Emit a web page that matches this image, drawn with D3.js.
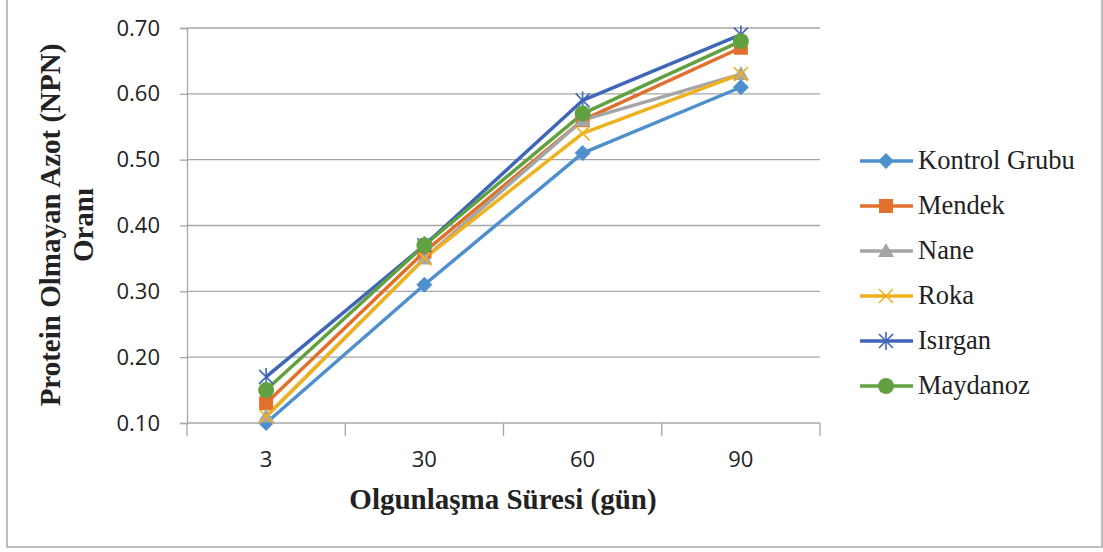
<!DOCTYPE html>
<html>
<head>
<meta charset="utf-8">
<script src="https://cdn.jsdelivr.net/npm/d3@7"></script>
<style>
  html, body { margin: 0; padding: 0; background: #fff; }
  svg { display: block; }
</style>
</head>
<body>
<script>
// veriler
var categories = ['3', '30', '60', '90'];
var seriesNames = ['Kontrol Grubu', 'Mendek', 'Nane', 'Roka', 'Isırgan', 'Maydanoz'];
var kontrolValues = [0.10, 0.31, 0.51, 0.61];
var mendekValues = [0.13, 0.36, 0.56, 0.67];
var naneValues = [0.11, 0.35, 0.56, 0.63];
var rokaValues = [0.11, 0.35, 0.54, 0.63];
var isirganValues = [0.17, 0.37, 0.59, 0.69];
var maydanozValues = [0.15, 0.37, 0.57, 0.68];
var yTicks = [0.10, 0.20, 0.30, 0.40, 0.50, 0.60, 0.70];

var colors = ['#4f8fcc', '#e0702b', '#a5a5a5', '#efb21f', '#3f66b8', '#62a140'];
var markers = ['diamond', 'square', 'triangle', 'x', 'star', 'circle'];
var allValues = [kontrolValues, mendekValues, naneValues, rokaValues, isirganValues, maydanozValues];

var series = seriesNames.map(function(name, i){
    return {name: name, values: allValues[i], color: colors[i], marker: markers[i]};
});

var W = 1103, H = 552;
var svg = d3.select(document.body).append('svg').attr('width', W).attr('height', H);

// dış çerçeve
svg.append('rect')
    .attr('x', 7).attr('y', -2).attr('width', 1095).attr('height', 549)
    .attr('fill', 'none').attr('stroke', '#a8a8a8').attr('stroke-width', 1.5);

var plotL = 187, plotR = 820, plotT = 28, plotB = 423;

var x = d3.scaleBand().domain(categories).range([plotL, plotR]);
var y = d3.scaleLinear().domain([0.10, 0.70]).range([plotB, plotT]);

// yatay ızgara
svg.append('g').selectAll('line').data(yTicks.slice(1)).enter()
    .append('line')
    .attr('x1', plotL).attr('x2', plotR)
    .attr('y1', function(d){ return y(d); })
    .attr('y2', function(d){ return y(d); })
    .attr('stroke', '#a6a6a6').attr('stroke-width', 1.3);

// y ekseni
var yAxis = svg.append('g').attr('transform', 'translate(' + plotL + ',0)')
    .call(d3.axisLeft(y).tickValues(yTicks).tickFormat(d3.format('.2f')).tickSize(7).tickPadding(20));
yAxis.select('.domain').attr('stroke', '#a6a6a6').attr('stroke-width', 1.3);
yAxis.selectAll('.tick line').attr('stroke', '#a6a6a6').attr('stroke-width', 1.3);
yAxis.selectAll('text')
    .attr('font-family', '"Open Sans", "Noto Sans", sans-serif')
    .attr('font-size', '22px').attr('fill', '#222');

// x ekseni
var xAxisG = svg.append('g').attr('transform', 'translate(0,' + plotB + ')');
xAxisG.append('line').attr('x1', plotL).attr('x2', plotR).attr('y1', 0).attr('y2', 0)
    .attr('stroke', '#a6a6a6').attr('stroke-width', 1.3);
var boundaries = categories.map(function(c){ return x(c); }).concat([plotR]);
xAxisG.selectAll('line.tk').data(boundaries).enter().append('line')
    .attr('class', 'tk')
    .attr('x1', function(d){ return d; }).attr('x2', function(d){ return d; })
    .attr('y1', 0).attr('y2', 13)
    .attr('stroke', '#a6a6a6').attr('stroke-width', 1.3);
xAxisG.selectAll('text').data(categories).enter().append('text')
    .attr('x', function(d){ return x(d) + x.bandwidth() / 2; })
    .attr('y', 44)
    .attr('text-anchor', 'middle')
    .attr('font-family', '"Open Sans", "Noto Sans", sans-serif')
    .attr('font-size', '22px').attr('fill', '#222')
    .text(function(d){ return d; });

// eksen başlıkları
svg.append('text')
    .attr('x', 503).attr('y', 509)
    .attr('text-anchor', 'middle')
    .attr('font-family', '"Liberation Serif", "Times New Roman", serif')
    .attr('font-weight', 'bold').attr('font-size', '29px').attr('fill', '#222')
    .text('Olgunlaşma Süresi (gün)');

var yTitle = svg.append('text')
    .attr('transform', 'translate(60,225) rotate(-90)')
    .attr('text-anchor', 'middle')
    .attr('font-family', '"Liberation Serif", "Times New Roman", serif')
    .attr('font-weight', 'bold').attr('font-size', '29px').attr('fill', '#222');
yTitle.append('tspan').attr('x', 0).attr('dy', 0).text('Protein Olmayan Azot (NPN)');
yTitle.append('tspan').attr('x', 0).attr('dy', 33).text('Oranı');

// çizgiler
var line = d3.line()
    .x(function(d, i){ return x(categories[i]) + x.bandwidth() / 2; })
    .y(function(d){ return y(d); });

function drawMarker(g, type, color){
    if (type === 'diamond') {
        g.append('path').attr('d', 'M0,-8L8,0L0,8L-8,0Z').attr('fill', color);
    } else if (type === 'square') {
        g.append('rect').attr('x', -7).attr('y', -7).attr('width', 14).attr('height', 14).attr('fill', color);
    } else if (type === 'triangle') {
        g.append('path').attr('d', 'M0,-8L8,6L-8,6Z').attr('fill', color);
    } else if (type === 'x') {
        g.append('path').attr('d', 'M-7,-7L7,7M-7,7L7,-7').attr('stroke', color).attr('stroke-width', 1.6).attr('fill', 'none');
    } else if (type === 'star') {
        g.append('path').attr('d', 'M-7,-7L7,7M-7,7L7,-7M0,-9L0,9').attr('stroke', color).attr('stroke-width', 1.6).attr('fill', 'none');
    } else if (type === 'circle') {
        g.append('circle').attr('r', 8).attr('fill', color);
    }
}

series.forEach(function(s){
    svg.append('path')
        .datum(s.values)
        .attr('d', line)
        .attr('fill', 'none')
        .attr('stroke', s.color)
        .attr('stroke-width', 3.5)
        .attr('stroke-linejoin', 'round');
});
series.forEach(function(s){
    s.values.forEach(function(v, i){
        var g = svg.append('g')
            .attr('transform', 'translate(' + (x(categories[i]) + x.bandwidth() / 2) + ',' + y(v) + ')');
        drawMarker(g, s.marker, s.color);
    });
});

// açıklama
var legend = svg.append('g');
series.forEach(function(s, i){
    var ly = 161 + i * 45;
    legend.append('line')
        .attr('x1', 860).attr('x2', 913).attr('y1', ly).attr('y2', ly)
        .attr('stroke', s.color).attr('stroke-width', 3.5);
    var g = legend.append('g').attr('transform', 'translate(886,' + ly + ')');
    drawMarker(g, s.marker, s.color);
    legend.append('text')
        .attr('x', 918).attr('y', ly + 8)
        .attr('font-family', '"Liberation Serif", "Times New Roman", serif')
        .attr('font-size', '26.5px').attr('fill', '#222')
        .text(s.name);
});
</script>
</body>
</html>
